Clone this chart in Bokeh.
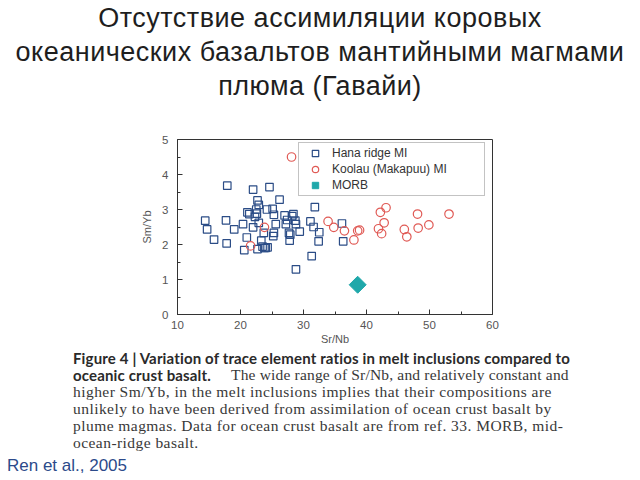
from bokeh.plotting import figure
from bokeh.layouts import column
from bokeh.models import (Div, Legend, LegendItem, FixedTicker, Range1d)
from bokeh.embed import file_html
from bokeh.resources import INLINE
import html
import math

# ---- data ----
hana_x = [14.4, 14.7, 15.8, 17.7, 17.8, 17.9, 19.0, 20.4, 20.6, 21.0, 21.1, 21.4,
          22.0, 22.0, 22.3, 22.6, 22.7, 22.9, 22.5, 22.9, 22.7, 23.3, 23.5, 23.8,
          24.0, 24.3, 23.7, 24.2, 24.6, 25.1, 25.3, 25.2, 25.3, 25.6, 26.2, 27.0,
          27.2, 27.7, 27.8, 27.9, 28.2, 28.4, 28.7, 28.8, 28.8, 29.4, 31.1, 31.3,
          31.6, 31.8, 32.5, 32.4, 36.1, 36.3, 27.4]
hana_y = [2.68, 2.43, 2.14, 2.69, 2.03, 3.68, 2.43, 2.58, 1.84, 2.20, 2.92, 2.87,
          3.57, 2.49, 2.79, 2.88, 3.26, 3.13, 3.00, 2.62, 1.87, 2.11, 1.94, 1.90,
          1.90, 1.92, 2.33, 3.00, 3.64, 3.02, 2.85, 2.24, 2.33, 2.58, 3.28, 2.83,
          2.58, 2.33, 2.11, 2.28, 2.81, 2.87, 2.68, 1.29, 2.58, 2.37, 2.66, 1.67,
          2.50, 3.07, 2.35, 2.09, 2.60, 2.09, 2.70]

koolau_x = [28.1, 21.6, 23.8, 33.9, 34.8, 36.5, 38.0, 38.6, 38.9, 41.9, 42.2,
            42.4, 42.8, 43.1, 46.0, 46.4, 48.1, 48.2, 49.9, 53.1]
koolau_y = [4.50, 1.96, 2.49, 2.66, 2.49, 2.39, 2.13, 2.39, 2.41, 2.45, 2.92,
            2.31, 2.62, 3.05, 2.43, 2.22, 2.87, 2.47, 2.56, 2.87]

morb_x = [38.6]
morb_y = [0.85]

series_names = ["Hana ridge MI", "Koolau (Makapuu) MI", "MORB"]

x_ticks = [10, 20, 30, 40, 50, 60]
x_minor = [15, 25, 35, 45, 55]
y_ticks = [0, 1, 2, 3, 4, 5]
y_minor = [0.5, 1.5, 2.5, 3.5, 4.5]

title_lines = ["Отсутствие ассимиляции коровых",
               "океанических базальтов мантийными магмами",
               "плюма (Гавайи)"]
caption_bold = ["Figure 4 | Variation of trace element ratios in melt inclusions compared to",
                "oceanic crust basalt."]
caption_normal = ["The wide range of Sr/Nb, and relatively constant and",
                  "higher Sm/Yb, in the melt inclusions implies that their compositions are",
                  "unlikely to have been derived from assimilation of ocean crust basalt by",
                  "plume magmas. Data for ocean crust basalt are from ref. 33. MORB, mid-",
                  "ocean-ridge basalt."]
source_text = "Ren et al., 2005"

# ---- layout (canvas pixels) ----
TOP_H = 110
MID_TOP, MID_BOT = 110, 350
FL, FR, FT, FB = 177, 492, 139, 314

# font ascent / descent (em) used to place baselines in HTML line boxes
ASC = {"Liberation Sans": 0.905, "Liberation Serif": 0.891, "Lato": 0.987}
DESC = {"Liberation Sans": 0.212, "Liberation Serif": 0.216, "Lato": 0.213}
LH = 0.95   # line-height factor


def span(text, left, baseline, top0, size, family, color, weight="normal",
         ls=0.0, align="left"):
    off = ((LH - ASC[family] - DESC[family]) / 2 + ASC[family]) * size
    top = baseline - top0 - off
    if align == "center":
        pos = "left:0;width:640px;text-align:center;"
    else:
        pos = "left:%.1fpx;" % left
    return ("<span style=\"position:absolute;%s top:%.1fpx; white-space:nowrap;"
            "font-family:'%s'; font-size:%.1fpx; line-height:%.2fpx;"
            "font-weight:%s; color:%s; letter-spacing:%.2fpx;\">%s</span>"
            % (pos, top, family, size, LH * size, weight, color, ls,
               html.escape(text)))


def panel(spans, height):
    return ("<div style=\"position:relative;width:640px;height:%dpx;"
            "overflow:hidden;background:white;\">%s</div>"
            % (height, "".join(spans)))


# ---- title ----
title_base = [28, 62, 96]
t_spans = [span(t, 0, b, 0, 27, "Liberation Sans", "#1e1e1e", ls=0.5,
                align="center")
           for t, b in zip(title_lines, title_base)]
top_div = Div(text=panel(t_spans, TOP_H), width=640, height=TOP_H, margin=0)

# ---- chart ----
p = figure(width=640, height=MID_BOT - MID_TOP, output_backend="svg",
           toolbar_location=None,
           x_range=Range1d(10, 60), y_range=Range1d(0, 5),
           min_border_left=FL, min_border_right=640 - FR,
           min_border_top=FT - MID_TOP, min_border_bottom=MID_BOT - FB)
p.background_fill_color = "white"
p.border_fill_color = "white"
p.outline_line_color = "#333333"
p.outline_line_width = 1
p.xgrid.visible = False
p.ygrid.visible = False

p.xaxis.ticker = FixedTicker(ticks=x_ticks, minor_ticks=x_minor)
p.yaxis.ticker = FixedTicker(ticks=y_ticks, minor_ticks=y_minor)
for ax in (p.xaxis[0], p.yaxis[0]):
    ax.major_tick_in = 5
    ax.major_tick_out = 0
    ax.minor_tick_in = 3
    ax.minor_tick_out = 0
    ax.axis_line_color = "#333333"
    ax.major_tick_line_color = "#333333"
    ax.minor_tick_line_color = "#333333"
    ax.major_label_text_font = "Liberation Sans"
    ax.major_label_text_font_size = "11.5px"
    ax.major_label_text_color = "#555555"
    ax.axis_label_text_font = "Liberation Sans"
    ax.axis_label_text_font_size = "11px"
    ax.axis_label_text_font_style = "normal"
    ax.axis_label_text_color = "#555555"
p.xaxis.axis_label = "Sr/Nb"
p.yaxis.axis_label = "Sm/Yb"
p.xaxis.major_label_standoff = 6
p.yaxis.major_label_standoff = 9
p.xaxis.axis_label_standoff = 1
p.yaxis.axis_label_standoff = 6

r1 = p.scatter(hana_x, hana_y, marker="square", size=7.5, fill_color=None,
               line_color="#2b4c86", line_width=1.2)
r2 = p.scatter(koolau_x, koolau_y, marker="circle", size=8.5, fill_color=None,
               line_color="#e05a55", line_width=1.2)
r3 = p.scatter(morb_x, morb_y, marker="square", size=12, angle=math.pi / 4,
               fill_color="#1fa8aa", line_color="#1fa8aa")

legend = Legend(items=[LegendItem(label=series_names[0], renderers=[r1]),
                       LegendItem(label=series_names[1], renderers=[r2]),
                       LegendItem(label=series_names[2], renderers=[r3])],
                location=(298 - FL, FB - 196),
                glyph_width=28, glyph_height=16, label_height=16, spacing=0,
                padding=2, margin=0, label_standoff=3, label_width=150,
                label_text_font="Liberation Sans", label_text_font_size="12px",
                label_text_color="#333333", border_line_color="#888888",
                border_line_width=1, background_fill_color="white",
                background_fill_alpha=1)
p.add_layout(legend, "center")

# ---- caption + source ----
BOT_H = 480 - MID_BOT
cap_base = [363.5, 380.5, 397.5, 414.5, 431.5, 448.5]
CB = 15.0      # bold caption font size
CN = 15.5      # serif caption font size
c_spans = [span(caption_bold[0], 73, cap_base[0], MID_BOT, CB, "Lato", "#2a2a2a",
                weight="bold", ls=0.15),
           span(caption_bold[1], 73, cap_base[1], MID_BOT, CB, "Lato", "#2a2a2a",
                weight="bold", ls=0.15),
           span(caption_normal[0], 231, cap_base[1], MID_BOT, CN,
                "Liberation Serif", "#383838", ls=0.18)]
for t, b in zip(caption_normal[1:], cap_base[2:]):
    c_spans.append(span(t, 73, b, MID_BOT, CN, "Liberation Serif", "#383838",
                        ls=0.45))
c_spans.append(span(source_text, 7, 472, MID_BOT, 17, "Liberation Sans",
                    "#2c4a8a"))
bot_div = Div(text=panel(c_spans, BOT_H), width=640, height=BOT_H, margin=0)

layout = column(top_div, p, bot_div, spacing=0)
open("out.html", "w").write(file_html(layout, INLINE))
